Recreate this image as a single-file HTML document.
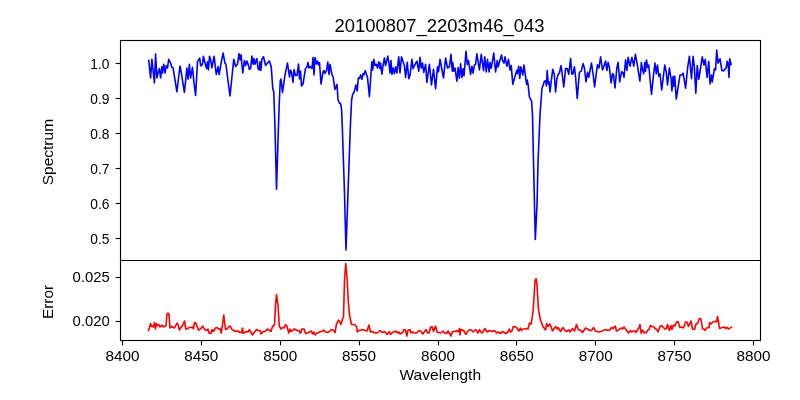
<!DOCTYPE html><html><head><meta charset="utf-8"><style>html,body{margin:0;padding:0;background:#fff;}svg{display:block;will-change:transform;}</style></head><body><svg width="800" height="400" viewBox="0 0 800 400">
<rect width="800" height="400" fill="#fff"/>
<polyline fill="none" stroke="#0000ff" stroke-width="1.6" stroke-linejoin="round" stroke-linecap="square" points="148.75,60.5 150.6,78 151.9,59.25 154.4,83 155.6,54 156.9,78 158.1,72.4 159.4,68.6 160.6,78 161.9,66.75 162.5,73 163.75,64.25 165,73 166.25,65.5 167.5,68 168.75,59.25 170.6,63 171.9,67.4 173.1,68 176.9,91.75 180,66 181.25,72.4 184.4,92.4 186.9,68 188.1,79.25 189.4,64.25 190.6,78 192.5,67.4 193.75,80.5 195.6,95.5 197.5,61.6 199.7,58.1 200.6,65.3 201.25,66 202.5,63.75 203.4,56.25 205,63 206.6,68.5 207.5,61.9 208.4,70 209.5,56.25 210.6,59.4 211.9,67.8 214.1,56.25 216.25,74.5 218.1,66.6 219.1,74.5 221.25,62.5 223.1,53.1 225,63.4 225.9,64 227.5,76.75 230,96 233.75,59.25 235.6,66.5 237.5,64 239,53.6 240,59.9 241,54.9 242.75,73 244.4,60.5 245.6,65.5 246.9,61 248.1,64.25 249.4,69.25 250.6,68.6 251.9,56.1 253.1,64.25 254,58.6 255,64.25 256.9,58.6 258.1,68.6 259.4,69.9 260,61.75 260.9,70.5 261.9,59.25 263.5,56.75 265.6,65.5 267.5,63 269.4,61 271.25,66.75 272.8,89.4 273.75,91.25 275,128 276.5,189.2 278.4,128 279.4,100 280.3,80.5 281,79 282.5,92.4 285,74.9 287.5,63 289.5,77 290.5,70 291.5,72 293,82.5 294,69.5 295.5,75.5 297,75.5 298.5,64 299.5,79 300.5,71 301.5,86 303,84 305.5,68.5 307,67 308,62.5 309,68 310,66.5 312,68.5 313,57.5 314,75 315,57.5 316.5,64 317.5,61 318.5,65 319.5,62.5 321,84 323,72 324,70.5 325,73.5 326.5,70.5 327.8,62 329,74.5 330,64.25 331.9,74.25 333.1,77 335,89.5 337,84.4 338,100 339.4,103 340.6,103.75 341.6,109.4 342.5,132.5 344.4,190 346,250 348.1,190 350.3,128 351.6,100 352.8,93.75 354,92.5 355.9,85 357.2,91 358.3,78 359.4,78.5 360.6,74.9 361.9,79.25 363.1,73.6 364,74.9 365.25,70.5 367.5,77.4 369.4,96.75 370.6,79.25 371.9,61.75 372.75,69.9 373.75,59.25 375,65.5 376.25,64.25 377.5,68 378.75,61.75 380,68.6 380.6,63 381.9,74.25 383.1,65.5 384.4,58 385.6,65.5 387.75,56.1 388.75,61.75 390,73 391,60.5 391.9,74.25 393.1,68 394.4,73.6 395.6,66.75 396.9,73 398.75,56.75 400,73 401.5,56.75 403.1,61.75 404.4,65.5 405.6,77.4 407.25,62.4 408.75,78.6 410,75.5 411.9,59.25 413.1,68.6 414.75,64.9 416.9,61.1 418.75,71.1 420,57.4 421.25,68 422.5,63 423.75,72.4 425.6,64.25 426.9,82.4 429.4,64.25 431.5,84.9 433.5,69.25 435.6,88.6 437.5,66.75 438.5,71.75 440,59.25 443.5,78 445.6,58 447.5,68 449.4,66.75 451,54.25 452.25,71.1 452.75,62.5 453.75,71.25 455,68.1 456.9,81.25 458.1,67.5 459.4,78.1 460.6,63.75 461.9,77.5 463.1,68.75 464,75.6 466,51.25 467.25,64.4 468.5,60.6 470.6,74.4 471.9,66.25 473.1,73.1 474.4,65 475.6,64.4 476.9,53.75 479.4,70 481.25,54.4 483.5,70.6 484.75,56.9 486.25,71.9 487.5,59.4 489.1,71.9 490,62.5 491.25,68.1 493.75,53.1 495.6,71.9 497.25,60.6 498.1,66.9 500,60 501.5,55 502.5,60.6 504,63.1 505,56.9 506.9,66.25 508.5,59.4 510,70 511.25,65.6 512.8,84.4 516.6,70.6 517.2,73.75 518.75,66.25 519.7,78.4 520.9,66.9 522.8,75 524,65 525.9,79.4 526.6,84.4 527.2,80 528.1,84.4 529.4,96.9 531.6,101.25 532.5,115 533.7,170 535.3,239.5 537,205 538.1,160 540,115 541.9,88.75 544.4,81.25 545.6,80.6 546.4,86 547.2,70.6 548.3,84 549,81.75 550,92 551.25,81.1 552.75,69.25 554.2,74 555.6,92 556.9,79 558.1,74.4 559.4,73 561,65.5 562.25,74.25 563.75,86.9 565.6,68.6 567.25,68.6 568.75,74.25 570.6,58.6 571.9,74.25 573.1,73.6 574.4,66.75 575.6,77.4 577.25,98.5 579.4,72.4 581.25,71.1 583.1,63.6 584.4,68 586,82 587.5,72.4 588.75,77.4 590,70.5 591.5,63 593.1,74.25 594.6,86.9 596.25,73.6 597.5,64.9 599,68 600.6,56.75 602.5,69.9 603.75,66.75 605.6,61.1 606.9,70.5 608.1,62.4 609.4,67.4 611.1,83 612.5,73.6 613.5,74.9 615,88 616.9,67.4 618.1,62.4 619.7,81.9 621.5,71.75 623.1,73 624,77.4 625.6,59.9 626.9,70.5 628.1,57.4 630,66.1 631.9,57.4 633.75,66.1 635.4,54.25 637.25,64.25 639.9,81.25 641.4,62.5 642.5,70 643.75,73.75 644.75,62.5 645.6,71.25 646.5,60 647.75,67.5 648.75,65 651.5,94.4 653.5,75 655,63.1 656.25,73.75 657.5,65 658.75,76.25 660,73.75 661.7,90 664.75,65 666.25,71.9 667.5,85 669.4,68.1 671.25,80 671.9,91 673.1,76.25 673.75,86.25 674.75,76.25 676.25,99 677.5,91.25 680,75 681.9,75 683.1,73.1 685.6,88.1 687.75,66.9 689.4,56.25 691.5,78.75 693.1,56.25 694.4,67.5 695.8,93.1 697.25,65.6 698.75,79.4 700.25,70 702.25,56.9 704,65 705.25,59.4 707.1,77.5 708.75,61.25 710,84 711.5,75 712.25,81.9 714.4,68.75 715.6,70 716.7,50 718.1,63.1 720,58.75 721.9,70.6 724,70.6 726.25,67.5 727.25,61.25 728.1,63.75 729,77.5 729.75,58.75 731,64.4"/>
<polyline fill="none" stroke="#ff0000" stroke-width="1.6" stroke-linejoin="round" stroke-linecap="square" points="148.5,330.5 149.5,327.5 150.5,323.5 151.5,326.5 152.5,326 153.5,327 154.5,322.5 155.5,329 156.5,323.5 157.5,325.5 158.5,324.5 160,327 161,326 162,325 163,327 164.5,326.5 166,325.5 167,314 168,313 169,314.5 170,328 171.5,326.5 173,327.5 174.5,328 177,323 178,324.5 179.5,330 181,327.5 182.5,325.5 184.5,321 185.8,329 187.5,329 189,327.5 191,327.5 192.8,327 193.5,329 194.5,322.5 196,323.5 198.5,330 200.5,329 202.8,326 204.5,329.5 206.5,330.5 208,329 209,333 211,333.5 212,329.5 213.5,331.5 215.5,328 217,327.5 218.5,329 220,328.5 221.2,333 222.5,325 223.8,315 225.5,329.5 227,329 229.5,326 230.5,326.5 231.5,329 233.5,330.5 236,331.5 238,331 240,332.5 241.5,332.5 242.5,328 243.2,333.5 244.5,332.5 246.5,331.5 248,332 249.5,329.5 250.5,331.5 252.5,335 254.5,332 256.5,329.5 258,330.5 260,330.5 261,334 263,331.5 265,331.5 266,330.5 267.5,329 269,330 271,331.5 272.5,326.5 274.5,325 275.5,305 276.5,294.5 278,305 279.3,326 281,329 282.5,327.5 284,328 285.5,324.5 286.8,326 288.8,333 290,329 291,331.5 294.5,329 297,330.5 299,330.5 300,333 301,332.5 301.8,329 304,329 305.5,333.5 307.5,333 309.5,332 311.5,331 312.5,334 314,332 315.2,335 317,333 319,332.5 320.5,331.5 322,331.5 323.7,330 325.5,332 327.5,332.5 329.5,331.5 331.5,329.5 333.5,330.5 335,332.5 336.5,324 338.5,320 339.5,321.5 341,324.5 342.5,319 343.5,317 344.5,280 345.75,263.5 347.2,280 348.2,300 349.5,315 351.5,324.5 354.5,324.5 356.5,326.5 357.5,332 359,330.5 362.5,329.5 365,330.5 367,331 369,325 370.5,332 372,331.5 374,332.5 376,333 378,332.5 380,330.5 382,332.5 384.5,331.5 387,334.5 389.5,331.5 390.5,334.5 392.5,332.5 396,331 397.5,333 399,332 400,334 402.5,332.5 404,329.5 405.5,330 406.8,336 408,330.5 410,329.5 411,333 412.5,332 414.5,333 416.5,333 419,330.5 421,331.5 422.8,334 424.5,331.5 426,329.5 427.5,333 429,333 430.5,327.5 432,326.5 433.5,331.5 435.5,326 437,332 438.5,332.5 440.5,333 443,331 444.5,333 446.5,333.5 448,331 449,332.5 451,336 452.5,331.5 455,331.5 457,330.5 458,332 459.5,328.5 460,335 460.8,329.5 462.5,330 464,331 466,334.5 467.5,331.5 470,329.5 471.5,330 473,332 476,329.5 477,331.5 478,333 479.5,329.5 480.5,331.5 482,333 485,328.5 487,332 489.5,330.5 492,331.5 494.5,330.5 496.5,333 498.5,332 500.5,333.5 502.5,331.5 504.5,332.5 506,333.5 508,332 509.2,329 510.5,332 512,331 513,327 514.5,326.5 516.5,327.5 519,331 520.5,328 521.5,330.5 523,329 525,329 526.5,328.5 528,329 529.5,323 531.2,324 533.2,310 535,281 536,278.5 537,285 538.5,310 540.5,320 543,326.5 545.5,330 546.8,323.5 548,326.5 550,324 552.5,331 554,328.5 555.8,326.5 557,329 558,327.5 560.5,331.5 563,327.5 565,330.5 566.5,331.5 569,330 570,332 572.5,328.5 574.5,331 576.5,324.5 578.5,330 580.5,330 582.5,332.5 585.5,328 587.5,329 590,330.5 591.5,330.5 593.5,327.5 595.5,331 598,332 601,331.5 603,330.5 606,329.5 608,330.5 610,330 611.5,327.5 613,328.5 615.2,326 616.5,331 618,330.5 619.5,329 621.5,328 622.5,329 624,327 625.5,329 628.5,333 630.5,330.5 631.5,332 633,331 635,331 636,332.5 638,329 639,328 640,324.5 641.2,333.5 642.5,330 644.5,333 646.5,332.5 648,330 649,329.5 650.5,325.5 652,326.5 654,327 655.5,329 656.5,329 658,332 660,326.5 661.5,325.5 663,327 664.8,329 666.2,329 667.5,324.5 669.5,330.5 671,325.5 672,329.5 673.5,325 675,326 676.5,322 678,321.5 680,327.5 681.5,327 683.5,328 685.5,322 687,322 688.5,326.5 691,321 692.5,329 694.5,329.5 696,324 697.5,323.5 699.5,318.5 701,319 702.5,329 704,329 705.2,330.5 706.5,328 709,327.5 709.8,322.5 711,324 713.5,321.5 715.5,321.5 716.5,322 717.5,316.5 718.5,322 719.5,328.5 722,327.5 724.5,327 725.5,328.5 727,327.5 729,329 731.5,327"/>
<g stroke="#000" stroke-width="1.11" fill="none" stroke-linecap="square">
<rect x="120.5" y="40.5" width="640.0" height="300.0"/>
<line x1="120.5" y1="260.5" x2="760.5" y2="260.5"/>
</g>
<g stroke="#000" stroke-width="1.11">
<line x1="122.5" y1="340.5" x2="122.5" y2="345.36"/>
<line x1="201.5" y1="340.5" x2="201.5" y2="345.36"/>
<line x1="280.5" y1="340.5" x2="280.5" y2="345.36"/>
<line x1="359.5" y1="340.5" x2="359.5" y2="345.36"/>
<line x1="438.5" y1="340.5" x2="438.5" y2="345.36"/>
<line x1="516.5" y1="340.5" x2="516.5" y2="345.36"/>
<line x1="595.5" y1="340.5" x2="595.5" y2="345.36"/>
<line x1="674.5" y1="340.5" x2="674.5" y2="345.36"/>
<line x1="753.5" y1="340.5" x2="753.5" y2="345.36"/>
<line x1="120.5" y1="63.5" x2="115.64" y2="63.5"/>
<line x1="120.5" y1="98.5" x2="115.64" y2="98.5"/>
<line x1="120.5" y1="133.5" x2="115.64" y2="133.5"/>
<line x1="120.5" y1="168.5" x2="115.64" y2="168.5"/>
<line x1="120.5" y1="203.5" x2="115.64" y2="203.5"/>
<line x1="120.5" y1="238.5" x2="115.64" y2="238.5"/>
<line x1="120.5" y1="277.5" x2="115.64" y2="277.5"/>
<line x1="120.5" y1="321.5" x2="115.64" y2="321.5"/>
</g>
<g font-family="Liberation Sans, sans-serif" fill="#000">
<text x="122.50" y="361" font-size="14.2" text-anchor="middle" textLength="34" lengthAdjust="spacingAndGlyphs">8400</text>
<text x="201.38" y="361" font-size="14.2" text-anchor="middle" textLength="34" lengthAdjust="spacingAndGlyphs">8450</text>
<text x="280.25" y="361" font-size="14.2" text-anchor="middle" textLength="34" lengthAdjust="spacingAndGlyphs">8500</text>
<text x="359.12" y="361" font-size="14.2" text-anchor="middle" textLength="34" lengthAdjust="spacingAndGlyphs">8550</text>
<text x="438.00" y="361" font-size="14.2" text-anchor="middle" textLength="34" lengthAdjust="spacingAndGlyphs">8600</text>
<text x="516.88" y="361" font-size="14.2" text-anchor="middle" textLength="34" lengthAdjust="spacingAndGlyphs">8650</text>
<text x="595.75" y="361" font-size="14.2" text-anchor="middle" textLength="34" lengthAdjust="spacingAndGlyphs">8700</text>
<text x="674.62" y="361" font-size="14.2" text-anchor="middle" textLength="34" lengthAdjust="spacingAndGlyphs">8750</text>
<text x="753.50" y="361" font-size="14.2" text-anchor="middle" textLength="34" lengthAdjust="spacingAndGlyphs">8800</text>
<text x="109.5" y="68.60" font-size="14.2" text-anchor="end" textLength="19.2" lengthAdjust="spacingAndGlyphs">1.0</text>
<text x="109.5" y="103.60" font-size="14.2" text-anchor="end" textLength="19.2" lengthAdjust="spacingAndGlyphs">0.9</text>
<text x="109.5" y="138.60" font-size="14.2" text-anchor="end" textLength="19.2" lengthAdjust="spacingAndGlyphs">0.8</text>
<text x="109.5" y="173.60" font-size="14.2" text-anchor="end" textLength="19.2" lengthAdjust="spacingAndGlyphs">0.7</text>
<text x="109.5" y="208.60" font-size="14.2" text-anchor="end" textLength="19.2" lengthAdjust="spacingAndGlyphs">0.6</text>
<text x="109.5" y="243.60" font-size="14.2" text-anchor="end" textLength="19.2" lengthAdjust="spacingAndGlyphs">0.5</text>
<text x="109.9" y="282.10" font-size="14.2" text-anchor="end" textLength="37.3" lengthAdjust="spacingAndGlyphs">0.025</text>
<text x="109.9" y="326.10" font-size="14.2" text-anchor="end" textLength="37.3" lengthAdjust="spacingAndGlyphs">0.020</text>
<text x="439.5" y="31.8" font-size="17.7" text-anchor="middle" textLength="210" lengthAdjust="spacingAndGlyphs">20100807_2203m46_043</text>
<text x="440.3" y="380" font-size="14.2" text-anchor="middle" textLength="81.6" lengthAdjust="spacingAndGlyphs">Wavelength</text>
<text transform="translate(53,152.1) rotate(-90)" font-size="14.2" text-anchor="middle" textLength="66.3" lengthAdjust="spacingAndGlyphs">Spectrum</text>
<text transform="translate(53,301.95) rotate(-90)" font-size="14.2" text-anchor="middle" textLength="34" lengthAdjust="spacingAndGlyphs">Error</text>
</g>
</svg></body></html>
